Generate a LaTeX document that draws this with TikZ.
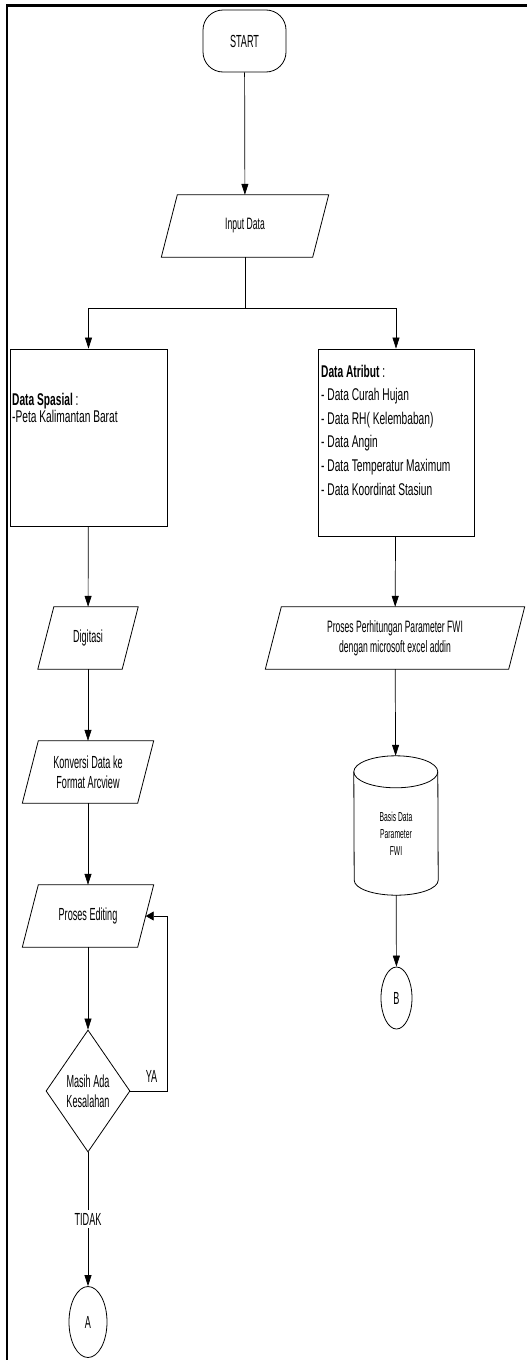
\documentclass[tikz,border=0pt]{standalone}
\usepackage{fontspec}
\setmainfont[FakeStretch=0.52]{Liberation Sans}
\newfontfamily\boxfont[FakeStretch=0.6]{Liberation Sans}
\usetikzlibrary{shapes,arrows,positioning,calc,arrows.meta}

\begin{document}
\begin{tikzpicture}[x=1pt,y=-1pt,
    font=\fontsize{17.5}{20.5}\selectfont,
    every node/.style={inner sep=1pt},
    flowline/.style={line width=0.7pt},
    arrowline/.style={flowline,-{Triangle[length=11pt,width=7pt]}},
    backline/.style={flowline,-{Triangle[length=8pt,width=9pt]}},
    terminal/.style={draw,line width=0.8pt,rectangle,rounded corners=20pt,minimum width=83pt,minimum height=62pt},
    io/.style={rectangle,minimum height=62pt,align=center},
    databox/.style={draw,line width=0.8pt,rectangle},
    decision/.style={draw,line width=0.8pt,diamond,aspect=0.69,minimum width=84pt,minimum height=122pt,align=center,inner sep=0pt},
    connector/.style={draw,line width=0.8pt,ellipse}]
    \useasboundingbox (0,0) rectangle (527,1360);
    % frame
    \draw[line width=2.5pt] (7,1362) -- (7,5.5) -- (529,5.5);

    % left branch
    \node[terminal] (start) at (244.5,41) {START};
    \node[io,minimum width=151pt,font=\fontsize{16.5}{20}\selectfont] (input) at (245,226) {Input Data};
    \coordinate (split) at (245,308);
    \node[databox,minimum width=157pt,minimum height=177pt] (spasial) at (88.5,437.5) {};
    \node[anchor=west,align=left,font=\boxfont\fontsize{17}{16.5}\selectfont] (spasialtext) at (11,408) {\textbf{Data Spasial} :\\-Peta Kalimantan Barat};
    \node[io,minimum width=84pt] (digitasi) at (88,638) {Digitasi};
    \node[io,minimum width=115pt] (konversi) at (88,772) {Konversi Data ke\\Format Arcview};
    \node[io,minimum width=115pt] (editing) at (88,916) {Proses Editing};
    \node[decision] (masih) at (88,1091) {Masih Ada\\Kesalahan};
    \node[connector,minimum width=38pt,minimum height=71pt] (a) at (88,1322) {A};

    % right branch
    \node[databox,minimum width=156pt,minimum height=187pt] (atribut) at (396,442.5) {};
    \node[anchor=west,align=left,font=\boxfont\fontsize{17}{23.6}\selectfont] (atributtext) at (320,430) {\textbf{Data Atribut} :\\- Data Curah Hujan\\- Data RH( Kelembaban)\\- Data Angin\\- Data Temperatur Maximum\\- Data Koordinat Stasiun};
    \node[io,minimum width=243pt,font=\fontsize{16.5}{20}\selectfont] (hitung) at (395,638) {Proses Perhitungan Parameter FWI\\dengan microsoft excel addin};
    \node[minimum width=84pt,minimum height=139pt] (basis) at (396,825.5) {};
    \draw[line width=0.8pt] ([yshift=-16pt]basis.north west) arc[start angle=180,end angle=0,x radius=42pt,y radius=16pt]
        -- ([yshift=15pt]basis.south east) arc[start angle=0,end angle=-180,x radius=42pt,y radius=15pt] -- cycle;
    \draw[line width=0.8pt] ([yshift=-16pt]basis.north west) arc[start angle=180,end angle=360,x radius=42pt,y radius=16pt];
    \node[align=center,font=\fontsize{13}{17}\selectfont] (basistext) at (396,834) {Basis Data\\Parameter\\FWI};
    \node[connector,minimum width=31pt,minimum height=62pt] (b) at (396.5,998) {B};

    % parallelogram outlines
    \foreach \n in {input,digitasi,konversi,editing,hitung} {
        \draw[line width=0.8pt] ([xshift=-8pt]\n.south west) -- ([xshift=8pt]\n.north west)
            -- ([xshift=8pt]\n.north east) -- ([xshift=-8pt]\n.south east) -- cycle;
    }

    % connectors
    \draw[arrowline] (start) -- (input);
    \draw[flowline] (input) -- (split);
    \draw[arrowline] (split) -| (spasial);
    \draw[arrowline] (split) -| (atribut);
    \draw[arrowline] (spasial) -- (digitasi);
    \draw[arrowline] (digitasi) -- (konversi);
    \draw[arrowline] (konversi) -- (editing);
    \draw[arrowline] (editing) -- (masih);
    \draw[arrowline] (masih) -- node[fill=white,inner sep=3pt] (tidak) {TIDAK} (a);
    \draw[backline] (masih.east) -- ++(37,0) node[pos=0.57,above=7pt] (ya) {YA} |- (editing.east);
    \draw[arrowline] (atribut) -- (hitung);
    \draw[arrowline] (hitung) -- (basis);
    \draw[arrowline] (basis) -- (b);
\end{tikzpicture}
\end{document}
